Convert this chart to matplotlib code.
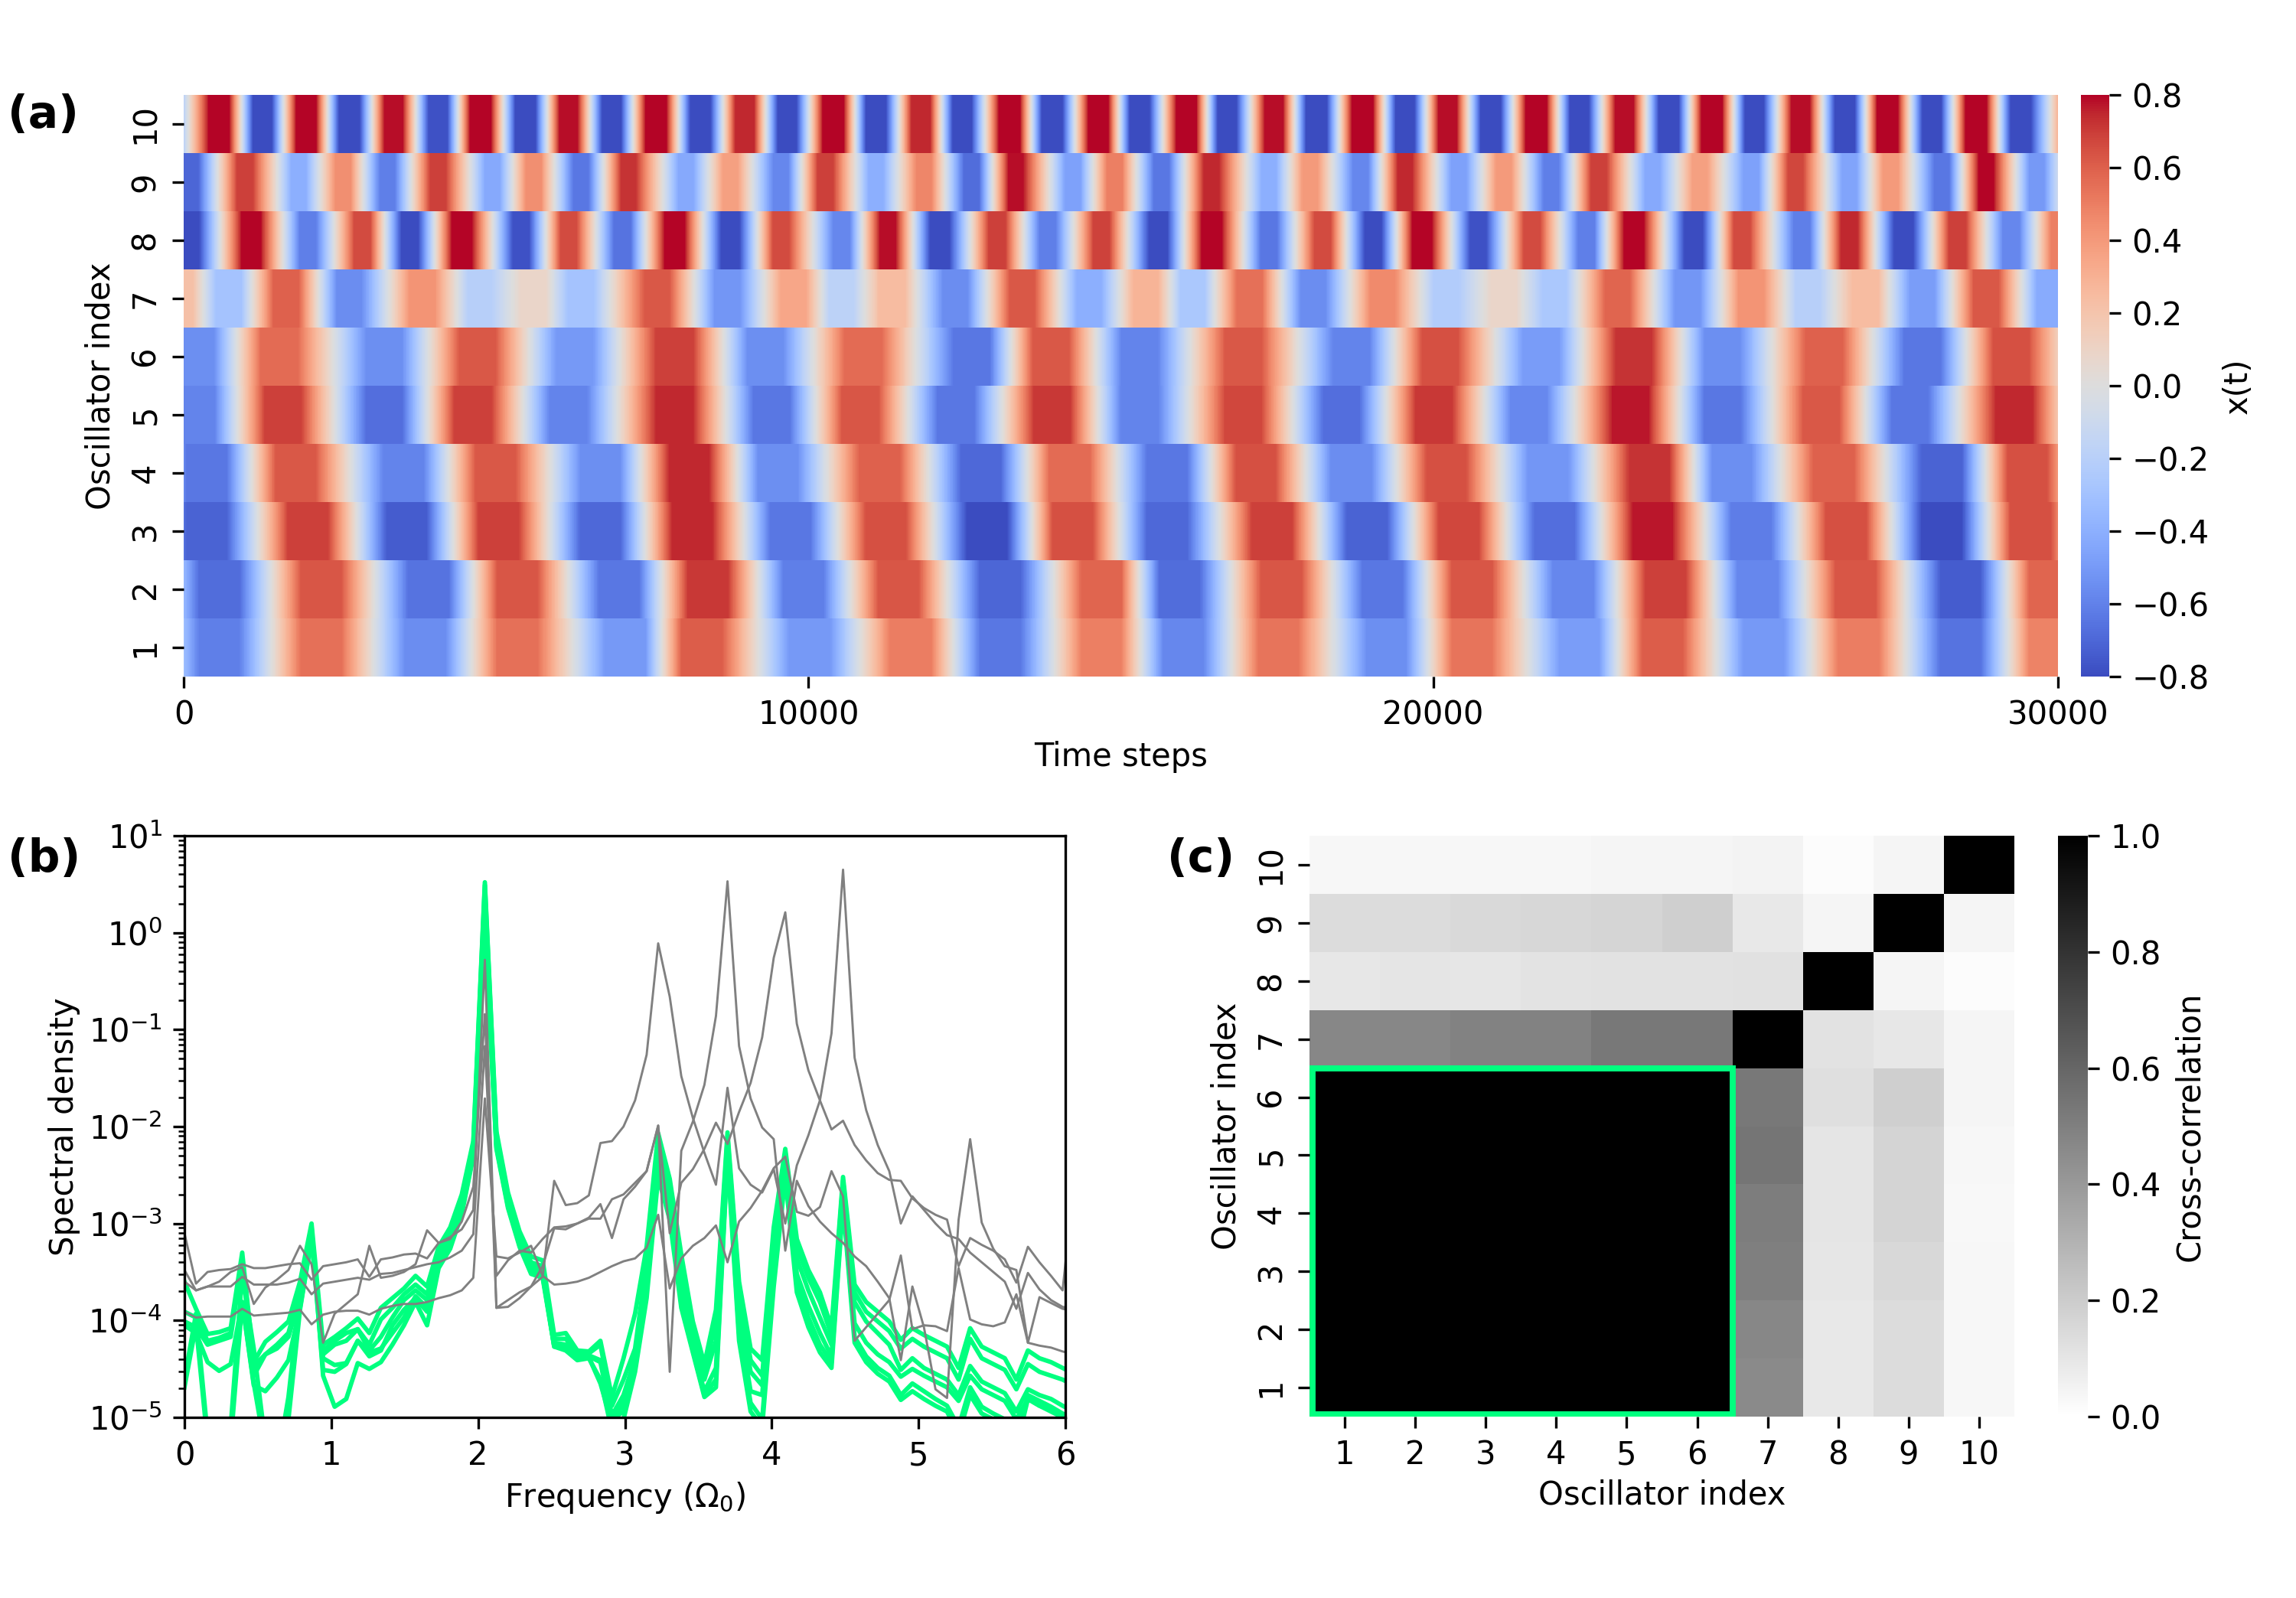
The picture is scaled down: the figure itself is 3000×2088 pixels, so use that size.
import numpy as np
import matplotlib
matplotlib.use('Agg')
import matplotlib.pyplot as plt
from matplotlib.patches import Rectangle
from matplotlib.ticker import LogLocator, NullFormatter

# panel (a): extrema of x(t) per oscillator
row1_t = [-1000, 570, 2200, 3870, 5340, 7070, 8290, 10020, 11640, 13070, 14690, 16000, 17520, 19250, 20620, 22340, 23670, 25290, 26810, 28440, 29860, 31400]
row1_x = [.48, -.61, .55, -.56, .55, -.51, .61, -.51, .51, -.64, .49, -.58, .53, -.54, .53, -.48, .61, -.51, .51, -.66, .48, -.56]
row2_t = [-1000, 570, 2200, 3920, 5340, 6970, 8390, 9920, 11440, 13070, 14690, 15940, 17570, 19190, 20620, 22240, 23720, 25190, 26760, 28440, 29860, 31400]
row2_x = [.53, -.68, .63, -.66, .63, -.64, .71, -.61, .63, -.71, .58, -.68, .63, -.64, .63, -.58, .69, -.58, .63, -.74, .58, -.66]
row3_t = [-1200, 370, 1990, 3570, 5040, 6670, 8140, 9710, 11240, 12860, 14230, 15740, 17420, 18940, 20410, 21940, 23510, 25090, 26610, 28140, 29560, 31100]
row3_x = [.57, -.72, .69, -.74, .69, -.7, .75, -.64, .65, -.8, .65, -.7, .69, -.72, .67, -.67, .77, -.62, .65, -.8, .65, -.62]
row4_t = [-1200, 370, 1790, 3520, 4990, 6670, 8090, 9510, 11140, 12760, 14180, 15740, 17160, 18690, 20210, 21840, 23460, 24780, 26410, 28140, 29510, 31000]
row4_x = [.57, -.64, .62, -.59, .62, -.54, .74, -.54, .6, -.69, .57, -.64, .64, -.56, .64, -.52, .72, -.54, .6, -.72, .64, -.54]
row5_t = [-1300, 200, 1590, 3210, 4630, 6160, 7860, 9410, 10830, 12360, 13900, 15300, 16960, 18530, 20010, 21530, 23160, 24630, 26210, 27630, 29300, 30800]
row5_x = [.57, -.6, .69, -.67, .7, -.6, .75, -.64, .63, -.64, .71, -.6, .67, -.67, .71, -.57, .77, -.64, .62, -.64, .75, -.52]
row6_t = [-1300, 200, 1530, 3210, 4700, 6260, 7860, 9310, 10880, 12610, 13880, 15300, 16960, 18690, 20110, 21730, 23210, 24630, 26260, 27830, 29250, 30900]
row6_x = [.52, -.54, .57, -.54, .62, -.51, .7, -.54, .57, -.64, .62, -.59, .62, -.59, .64, -.49, .72, -.54, .6, -.64, .64, -.54]
row7_t = [-50, 720, 1640, 2650, 3820, 4740, 5600, 6360, 7580, 8700, 9760, 10530, 11340, 12350, 13420, 14490, 15400, 16150, 17060, 18080, 19190, 20210, 21130, 21940, 22950, 24070, 25090, 26000, 26920, 27830, 28850, 29860, 30900]
row7_x = [.22, -.3, .6, -.55, .42, -.2, .08, -.3, .62, -.52, .35, -.18, .25, -.55, .62, -.4, .28, -.25, .55, -.55, .45, -.23, .08, -.25, .58, -.52, .42, -.2, .25, -.48, .62, -.42, .3]
row8_t = [110, 1080, 1990, 2860, 3620, 4450, 5400, 6160, 7020, 7860, 8750, 9560, 10530, 11270, 12100, 13020, 13830, 14690, 15600, 16450, 17370, 18230, 19040, 19820, 20720, 21580, 22450, 23210, 24170, 24940, 25900, 26660, 27530, 28390, 29250, 30020]
row8_x = [-.81, .85, -.61, .66, -.81, .88, -.78, .66, -.66, .88, -.84, .66, -.58, .78, -.86, .7, -.61, .68, -.84, .88, -.64, .66, -.81, .88, -.78, .66, -.61, .88, -.84, .66, -.61, .75, -.86, .7, -.58, .5]
row9_t = [110, 980, 1840, 2550, 3260, 4070, 4940, 5600, 6360, 7120, 8040, 8750, 9560, 10270, 11080, 11850, 12610, 13320, 14230, 14900, 15650, 16450, 17370, 18030, 18840, 19550, 20410, 21130, 21890, 22650, 23510, 24270, 25090, 25800, 26660, 27320, 28140, 28850, 29660, 30400]
row9_x = [-.71, .7, -.4, .44, -.61, .7, -.43, .44, -.64, .72, -.43, .37, -.58, .7, -.4, .47, -.68, .78, -.47, .5, -.64, .75, -.4, .4, -.58, .74, -.47, .4, -.61, .7, -.43, .37, -.47, .67, -.45, .4, -.64, .8, -.5, .42]
row10_t = [-400, 570, 1260, 1960, 2650, 3360, 4070, 4750, 5470, 6160, 6850, 7560, 8270, 8980, 9660, 10400, 11080, 11800, 12460, 13220, 13900, 14640, 15300, 16050, 16700, 17450, 18130, 18870, 19550, 20230, 20920, 21650, 22340, 23060, 23770, 24460, 25140, 25880, 26590, 27270, 27980, 28690, 29400, 30350]
row10_x = [-.8, .85, -.8, .85, -.86, .78, -.78, .88, -.84, .78, -.8, .88, -.84, .75, -.8, .88, -.84, .75, -.8, .88, -.86, .85, -.83, .85, -.8, .78, -.86, .88, -.8, .78, -.84, .88, -.8, .78, -.84, .88, -.8, .78, -.84, .88, -.8, .88, -.84, .8]
plateau = [320, 320, 320, 320, 290, 290, 200, 130, 120, 150]

row_times = [row1_t, row2_t, row3_t, row4_t, row5_t, row6_t, row7_t, row8_t, row9_t, row10_t]
row_values = [row1_x, row2_x, row3_x, row4_x, row5_x, row6_x, row7_x, row8_x, row9_x, row10_x]

# panel (b): log10 of the spectral density, one list per oscillator
freq_step = 0.0787
grey1 = [-3.10, -3.62, -3.50, -3.48, -3.47, -3.42, -3.46, -3.46, -3.44, -3.42, -3.41, -3.58, -3.44, -3.42, -3.40, -3.37, -3.55, -3.37, -3.35, -3.32, -3.31, -3.36, -3.20, -3.14, -3.06, -2.86, -0.28, -3.87, -3.86, -3.77, -3.65, -3.55, -2.56, -2.81, -2.79, -2.71, -2.17, -2.15, -2.00, -1.73, -1.26, -0.11, -0.66, -1.48, -1.91, -2.27, -2.60, -1.60, -2.43, -2.60, -2.68, -2.44, -3.00, -2.40, -2.09, -1.73, -1.04, 0.65, -1.29, -1.83, -2.19, -2.46, -3.00, -2.72, -2.86, -3.00, -3.12, -3.16, -3.30, -3.40, -3.50, -3.60, -3.88, -3.51, -3.68, -3.79, -3.86, -3.88]
grey2 = [-3.48, -3.69, -3.65, -3.60, -3.50, -3.45, -3.83, -3.66, -3.58, -3.48, -3.23, -3.42, -4.23, -3.93, -3.83, -3.73, -3.23, -3.56, -3.54, -3.50, -3.42, -3.07, -3.20, -3.16, -2.98, -2.62, -0.84, -3.87, -3.79, -3.71, -3.65, -3.44, -3.05, -3.06, -3.00, -2.94, -2.80, -3.15, -2.75, -2.62, -2.46, -1.99, -4.53, -2.25, -1.95, -1.57, -0.86, 0.53, -1.17, -1.71, -2.01, -2.13, -3.28, -2.56, -2.82, -2.98, -3.10, -3.20, -3.34, -3.44, -3.60, -3.77, -4.41, -3.65, -4.07, -4.71, -4.80, -2.96, -2.13, -2.99, -3.26, -3.44, -3.48, -4.23, -3.76, -3.82, -3.88, -3.90]
grey3 = [-3.60, -3.69, -3.65, -3.65, -3.65, -3.55, -3.63, -3.63, -3.63, -3.61, -3.57, -3.73, -3.62, -3.60, -3.58, -3.56, -3.58, -3.52, -3.51, -3.48, -3.45, -3.42, -3.40, -3.35, -3.28, -3.11, -1.17, -3.54, -3.38, -3.28, -3.30, -3.16, -3.04, -3.03, -3.00, -2.95, -2.95, -2.75, -2.70, -2.58, -2.46, -1.99, -3.10, -2.58, -2.44, -2.23, -1.96, -2.18, -1.85, -1.55, -1.08, -0.26, 0.21, -0.94, -1.42, -1.73, -2.03, -1.94, -2.19, -2.35, -2.48, -2.55, -2.56, -2.74, -2.84, -2.91, -2.96, -3.44, -3.15, -3.22, -3.28, -3.37, -3.61, -3.24, -3.40, -3.54, -3.69, -2.56]
grey4 = [-3.91, -3.97, -3.96, -3.96, -3.96, -3.88, -3.95, -3.94, -3.93, -3.92, -3.89, -4.04, -3.94, -3.91, -3.90, -3.90, -3.94, -3.88, -3.85, -3.83, -3.83, -3.81, -3.77, -3.74, -3.69, -3.56, -1.71, -3.34, -3.36, -3.30, -3.23, -3.54, -3.63, -3.62, -3.60, -3.56, -3.50, -3.44, -3.39, -3.36, -3.25, -2.91, -3.67, -3.36, -3.23, -3.15, -3.02, -3.40, -2.98, -2.84, -2.66, -2.43, -2.31, -2.88, -2.92, -2.83, -2.46, -2.72, -4.21, -4.07, -3.93, -3.79, -3.33, -4.09, -4.05, -4.06, -4.11, -3.46, -3.99, -4.04, -4.06, -4.02, -3.73, -4.23, -4.26, -4.28, -4.32, -4.35]
green1 = [-3.60, -3.88, -4.14, -4.12, -4.08, -3.30, -4.43, -4.22, -4.12, -4.01, -3.60, -3.00, -4.25, -4.17, -4.08, -3.98, -4.13, -3.87, -3.77, -3.67, -3.54, -3.65, -3.24, -3.04, -2.70, -2.15, 0.52, -2.05, -2.68, -3.08, -3.34, -3.38, -4.15, -4.13, -4.31, -4.32, -4.21, -4.79, -4.39, -3.93, -3.24, -2.07, -2.54, -3.32, -4.01, -4.45, -3.89, -2.06, -3.60, -4.29, -4.41, -3.04, -2.23, -3.16, -3.48, -3.71, -4.07, -2.52, -3.63, -3.81, -3.91, -4.01, -4.20, -4.08, -4.15, -4.21, -4.27, -4.49, -4.08, -4.27, -4.33, -4.39, -4.61, -4.31, -4.39, -4.43, -4.49, -4.55]
green2 = [-3.91, -3.97, -4.21, -4.18, -4.13, -3.36, -4.47, -4.35, -4.25, -4.13, -3.69, -3.08, -4.31, -4.21, -4.13, -4.09, -4.25, -3.99, -3.87, -3.73, -3.63, -3.73, -3.30, -3.10, -2.74, -2.19, 0.49, -2.09, -2.72, -3.12, -3.40, -3.44, -4.19, -4.19, -4.33, -4.34, -4.25, -4.88, -4.61, -4.29, -3.40, -2.15, -2.60, -3.40, -4.09, -4.53, -4.01, -2.11, -3.69, -4.41, -4.57, -3.16, -2.27, -3.24, -3.56, -3.81, -4.15, -2.56, -3.71, -3.91, -4.01, -4.11, -4.29, -4.19, -4.27, -4.33, -4.39, -4.61, -4.19, -4.39, -4.45, -4.51, -4.71, -4.45, -4.53, -4.57, -4.61, -4.67]
green3 = [-4.01, -4.07, -4.25, -4.21, -4.17, -3.40, -4.57, -4.35, -4.29, -4.17, -3.77, -3.12, -4.35, -4.25, -4.21, -4.09, -4.31, -4.17, -3.97, -3.79, -3.69, -3.79, -3.36, -3.16, -2.80, -2.23, 0.39, -2.15, -2.76, -3.16, -3.44, -3.48, -4.23, -4.25, -4.37, -4.36, -4.41, -4.98, -4.77, -4.39, -3.52, -2.27, -2.72, -3.56, -4.17, -4.61, -4.21, -2.19, -3.81, -4.53, -4.67, -3.32, -2.35, -3.36, -3.69, -3.97, -4.25, -2.60, -3.81, -4.01, -4.13, -4.25, -4.51, -4.39, -4.49, -4.55, -4.61, -4.77, -4.47, -4.63, -4.69, -4.75, -4.94, -4.71, -4.77, -4.81, -4.88, -4.94]
green4 = [-4.05, -4.13, -4.43, -4.52, -4.45, -3.81, -4.67, -4.73, -4.59, -4.41, -3.87, -3.16, -4.51, -4.53, -4.45, -4.21, -4.33, -4.29, -4.13, -3.97, -3.75, -3.87, -3.40, -3.22, -2.86, -2.27, 0.23, -2.19, -2.80, -3.20, -3.48, -3.52, -4.27, -4.27, -4.39, -4.37, -4.43, -5.02, -4.94, -4.41, -3.60, -2.40, -2.84, -3.73, -4.29, -4.73, -4.49, -2.23, -4.01, -4.73, -4.77, -3.40, -2.44, -3.52, -3.85, -4.13, -4.37, -2.68, -4.03, -4.23, -4.35, -4.43, -4.58, -4.50, -4.57, -4.63, -4.69, -4.83, -4.57, -4.71, -4.77, -4.83, -5.02, -4.81, -4.88, -4.92, -4.98, -5.02]
green5 = [-4.61, -3.93, -5.18, -5.50, -5.10, -3.52, -4.29, -5.26, -5.50, -4.79, -3.73, -3.04, -4.57, -4.89, -4.81, -4.44, -4.50, -4.43, -4.25, -4.05, -3.81, -4.05, -3.46, -3.26, -2.90, -2.31, 0.10, -2.23, -2.84, -3.24, -3.52, -3.56, -4.27, -4.31, -4.41, -4.39, -4.61, -5.14, -5.02, -4.53, -3.77, -2.52, -2.96, -3.87, -4.33, -4.79, -4.69, -2.31, -4.21, -4.94, -5.10, -3.65, -2.52, -3.71, -4.07, -4.33, -4.49, -2.80, -4.23, -4.43, -4.55, -4.63, -4.82, -4.73, -4.81, -4.88, -4.94, -5.18, -4.77, -4.96, -5.02, -5.08, -5.30, -4.81, -4.88, -4.94, -5.00, -5.06]
green6 = [-4.69, -4.05, -5.26, -5.62, -5.26, -3.81, -4.65, -5.34, -5.62, -5.02, -3.89, -3.16, -4.39, -4.46, -4.44, -4.21, -4.37, -4.31, -4.05, -3.89, -3.77, -3.91, -3.42, -3.24, -2.88, -2.29, 0.06, -2.21, -2.82, -3.22, -3.50, -3.54, -4.26, -4.29, -4.40, -4.38, -4.65, -5.06, -4.85, -4.45, -3.69, -2.44, -2.90, -3.81, -4.31, -4.77, -4.61, -2.27, -4.13, -4.85, -5.02, -3.56, -2.48, -3.60, -3.97, -4.25, -4.43, -2.74, -4.17, -4.37, -4.49, -4.57, -4.77, -4.65, -4.73, -4.81, -4.88, -5.10, -4.69, -4.89, -4.96, -5.02, -5.24, -4.77, -4.83, -4.89, -4.96, -5.02]

# panel (c): cross-correlation, rows and columns run 1..10
corr1 = [1, 1, 1, 1, 1, 1, .46, .09, .14, .035]
corr2 = [1, 1, 1, 1, 1, 1, .47, .09, .14, .035]
corr3 = [1, 1, 1, 1, 1, 1, .5, .10, .155, .035]
corr4 = [1, 1, 1, 1, 1, 1, .51, .105, .17, .03]
corr5 = [1, 1, 1, 1, 1, 1, .54, .105, .17, .035]
corr6 = [1, 1, 1, 1, 1, 1, .53, .125, .19, .04]
corr7 = [.47, .47, .49, .49, .53, .53, 1, .115, .095, .04]
corr8 = [.095, .105, .10, .11, .115, .115, .12, 1, .04, .015]
corr9 = [.14, .14, .15, .16, .165, .19, .09, .04, 1, .04]
corr10 = [.035, .035, .035, .035, .04, .04, .05, .015, .04, 1]
corr = np.array([corr1, corr2, corr3, corr4, corr5, corr6, corr7, corr8, corr9, corr10])
osc_labels = [str(i) for i in range(1, 11)]


def place(x0, x1, y0, y1):
    # pixel box of the 3000x2088 canvas to figure fractions
    return [x0 / 3000, 1 - y1 / 2088, (x1 - x0) / 3000, (y1 - y0) / 2088]


fig = plt.figure(figsize=(10, 6.96), dpi=300)

# (a) time series heatmap
ax_a = fig.add_axes(place(240, 2689, 124, 884))
levels = np.linspace(-0.8, 0.8, 129)
for r in range(10):
    t = np.array(row_times[r])
    x = np.array(row_values[r])
    knots_t = np.column_stack([t - plateau[r], t + plateau[r]]).ravel()
    knots_x = np.repeat(x, 2)
    ax_a.contourf(knots_t, [r + 0.5, r + 1.5], np.vstack([knots_x, knots_x]), levels=levels,
                  cmap='coolwarm', extend='both', antialiased=False)
ax_a.set_xlim(0, 30000)
ax_a.set_ylim(0.5, 10.5)
ax_a.set_xticks([0, 10000, 20000, 30000])
ax_a.set_yticks(range(1, 11))
ax_a.set_yticklabels(osc_labels, rotation=90, va='center')
ax_a.set_xlabel('Time steps', labelpad=3)
ax_a.set_ylabel('Oscillator index')
for s in ax_a.spines.values():
    s.set_visible(False)

cax_a = fig.add_axes(place(2719, 2756, 124, 884))
sm = plt.cm.ScalarMappable(norm=plt.Normalize(-0.8, 0.8), cmap='coolwarm')
cb_a = fig.colorbar(sm, cax=cax_a)
cb_a.set_ticks(np.arange(-0.8, 0.81, 0.2))
cb_a.set_label('x(t)')
cb_a.outline.set_visible(False)

# (b) spectra
ax_b = fig.add_axes(place(241, 1392, 1092, 1852))
for s in [green1, green2, green3, green4, green5, green6]:
    ax_b.plot(freq_step * np.arange(len(s)), 10.0 ** np.array(s), color='springgreen', lw=1.4)
for s in [grey1, grey2, grey3, grey4]:
    ax_b.plot(freq_step * np.arange(len(s)), 10.0 ** np.array(s), color='gray', lw=0.7)
ax_b.set_yscale('log')
ax_b.set_xlim(0, 6)
ax_b.set_ylim(1e-5, 1e1)
ax_b.yaxis.set_major_locator(LogLocator(base=10, numticks=10))
ax_b.yaxis.set_minor_locator(LogLocator(base=10, subs=np.arange(2, 10), numticks=10))
ax_b.yaxis.set_minor_formatter(NullFormatter())
ax_b.set_xlabel(r'Frequency ($\mathrm{\Omega}_0$)', labelpad=2.5)
ax_b.set_ylabel('Spectral density', labelpad=2.5)

# (c) correlation matrix
ax_c = fig.add_axes(place(1711, 2632, 1092, 1851))
mesh = ax_c.pcolormesh(np.arange(11), np.arange(11), corr, cmap='gray_r', vmin=0, vmax=1)
ax_c.add_patch(Rectangle((0.04, 0.04), 5.96, 5.96, fill=False, edgecolor='springgreen', lw=1.9))
ax_c.set_xlim(0, 10)
ax_c.set_ylim(0, 10)
ax_c.set_xticks(np.arange(10) + 0.5)
ax_c.set_xticklabels(osc_labels)
ax_c.set_yticks(np.arange(10) + 0.5)
ax_c.set_yticklabels(osc_labels, rotation=90, va='center')
ax_c.set_xlabel('Oscillator index', labelpad=2.5)
ax_c.set_ylabel('Oscillator index')
for s in ax_c.spines.values():
    s.set_visible(False)

cax_c = fig.add_axes(place(2689, 2728, 1092, 1851))
cb_c = fig.colorbar(mesh, cax=cax_c)
cb_c.set_ticks(np.arange(0, 1.01, 0.2))
cb_c.set_label('Cross-correlation')
cb_c.outline.set_visible(False)

# panel letters
fig.text(10 / 3000, 1 - 151 / 2088, '(a)', fontsize=14, fontweight='bold', va='center')
fig.text(10 / 3000, 1 - 1122 / 2088, '(b)', fontsize=14, fontweight='bold', va='center')
fig.text(1525 / 3000, 1 - 1122 / 2088, '(c)', fontsize=14, fontweight='bold', va='center')

fig.savefig('out.png', dpi=300)
